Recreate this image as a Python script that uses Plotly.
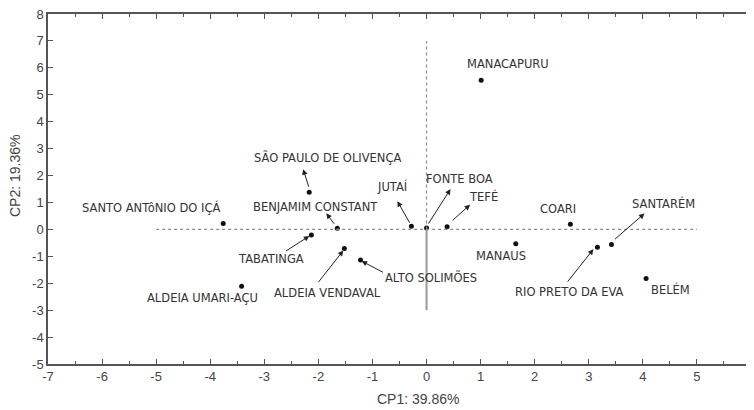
import plotly.graph_objects as go

# ---- data ----
names = ["MANACAPURU", "SÃO PAULO DE OLIVENÇA", "SANTO ANTôNIO DO IÇÁ", "BENJAMIM CONSTANT",
         "TABATINGA", "ALDEIA UMARI-AÇU", "ALDEIA VENDAVAL", "ALTO SOLIMÕES", "JUTAÍ",
         "FONTE BOA", "TEFÉ", "COARI", "MANAUS", "RIO PRETO DA EVA", "SANTARÉM", "BELÉM"]
cp1 = [1.01, -2.17, -3.76, -1.65, -2.13, -3.42, -1.52, -1.22, -0.28, 0.0, 0.38, 2.66, 1.65, 3.16, 3.42, 4.06]
cp2 = [5.54, 1.38, 0.22, 0.04, -0.21, -2.11, -0.71, -1.14, 0.12, 0.05, 0.10, 0.19, -0.53, -0.66, -0.56, -1.82]

x_ticks = [-7, -6, -5, -4, -3, -2, -1, 0, 1, 2, 3, 4, 5, 6]
y_ticks = [-5, -4, -3, -2, -1, 0, 1, 2, 3, 4, 5, 6, 7, 8]

# label offsets (pixels): dx right, dy up
label_dx = [27, 18, -72, -22, -40, -39, -17, 70, -19, 33, 36, -12, -15, -28, 52, 24]
label_dy = [16, 35, 16, 21, -24, -12, -44, -17, 40, 49, 30, 15, -12, -45, 41, -11]

# arrows: (index, tail_dx, tail_dy, head_dx, head_dy) in pixels relative to point (dy up)
arrows = [
    (1, 0, 4, -6, 23),
    (3, -2, 3, -11, 15),
    (4, -27, -17, -2, -1),
    (6, -27, -35, -1, -2),
    (7, 24, -13, 1, -1),
    (8, -1, 2, -14, 25),
    (9, 1, 3, 24, 39),
    (10, 4, 5, 23, 22),
    (14, 2, 4, 33, 31),
    (13, -31, -36, -4, -2),
]

OFF = 8  # page body margin
W, H = 754 - OFF, 410 - OFF
PL, PR, PT, PB = 48, 751, 14, 364  # plot area in page pixels
ML, MR, MT, MB = PL - OFF, W - (PR - OFF), PT - OFF, H - (PB - OFF)
xr, yr = [-7, 6], [-5, 8]
sx = (PR - PL) / (xr[1] - xr[0])
sy = (PB - PT) / (yr[1] - yr[0])

fig = go.Figure()

# reference lines
fig.add_shape(type="line", x0=-5, x1=5, y0=0, y1=0, xref="x", yref="y",
              line=dict(color="#8a8a8a", width=1.2, dash="3px,3px"))
fig.add_shape(type="line", x0=0, x1=0, y0=0, y1=7, xref="x", yref="y",
              line=dict(color="#8a8a8a", width=1.2, dash="3px,3px"))
fig.add_shape(type="line", x0=0, x1=0, y0=0, y1=-3, xref="x", yref="y",
              line=dict(color="#9a9a9a", width=2))

fig.add_trace(go.Scatter(x=cp1, y=cp2, mode="markers",
                         marker=dict(color="#111", size=5), showlegend=False, hoverinfo="skip"))

font_lbl = dict(family="DejaVu Sans", size=11.5, color="#333")
for i, n in enumerate(names):
    fig.add_annotation(x=cp1[i], y=cp2[i], text=n, showarrow=False, xref="x", yref="y",
                       xshift=label_dx[i], yshift=label_dy[i], font=font_lbl,
                       xanchor="center", yanchor="middle")

for (i, tdx, tdy, hdx, hdy) in arrows:
    fig.add_annotation(x=cp1[i] + hdx / sx, y=cp2[i] + hdy / sy,
                       ax=cp1[i] + tdx / sx, ay=cp2[i] + tdy / sy,
                       xref="x", yref="y", axref="x", ayref="y",
                       text="", showarrow=True, arrowhead=2, arrowsize=1.1,
                       arrowwidth=1, arrowcolor="#222", standoff=0, startstandoff=0)

axis_common = dict(showgrid=False, zeroline=False, showline=True, linecolor="#555", linewidth=1.5,
                   mirror="allticks", ticks="inside", ticklen=5, tickcolor="#555", tickwidth=1,
                   automargin=False, ticklabeloverflow="allow",
                   tickfont=dict(family="Liberation Sans", size=13, color="#444"))

fig.update_xaxes(range=xr, tickvals=x_ticks, ticktext=[str(v) for v in x_ticks],
                 minor=dict(dtick=0.5, ticks="inside", ticklen=3, tickcolor="#555"),
                 **axis_common)
fig.update_yaxes(range=yr, tickvals=y_ticks, ticktext=[str(v) for v in y_ticks],
                 **axis_common)

fig.add_annotation(text="CP1: 39.86%", xref="paper", yref="paper", x=(418 - PL) / (PR - PL),
                   y=-(399 - PB) / (PB - PT), showarrow=False, xanchor="center", yanchor="middle",
                   font=dict(family="Liberation Sans", size=14, color="#444"))
fig.add_annotation(text="CP2: 19.36%", xref="paper", yref="paper", x=-(PL - 15) / (PR - PL),
                   y=(PB - 176) / (PB - PT), showarrow=False, textangle=-90,
                   xanchor="center", yanchor="middle",
                   font=dict(family="Liberation Sans", size=14, color="#444"))

fig.update_layout(width=W, height=H, autosize=False, margin=dict(l=ML, r=MR, t=MT, b=MB, autoexpand=False),
                  plot_bgcolor="white", paper_bgcolor="white")

fig.write_html("out.html")
